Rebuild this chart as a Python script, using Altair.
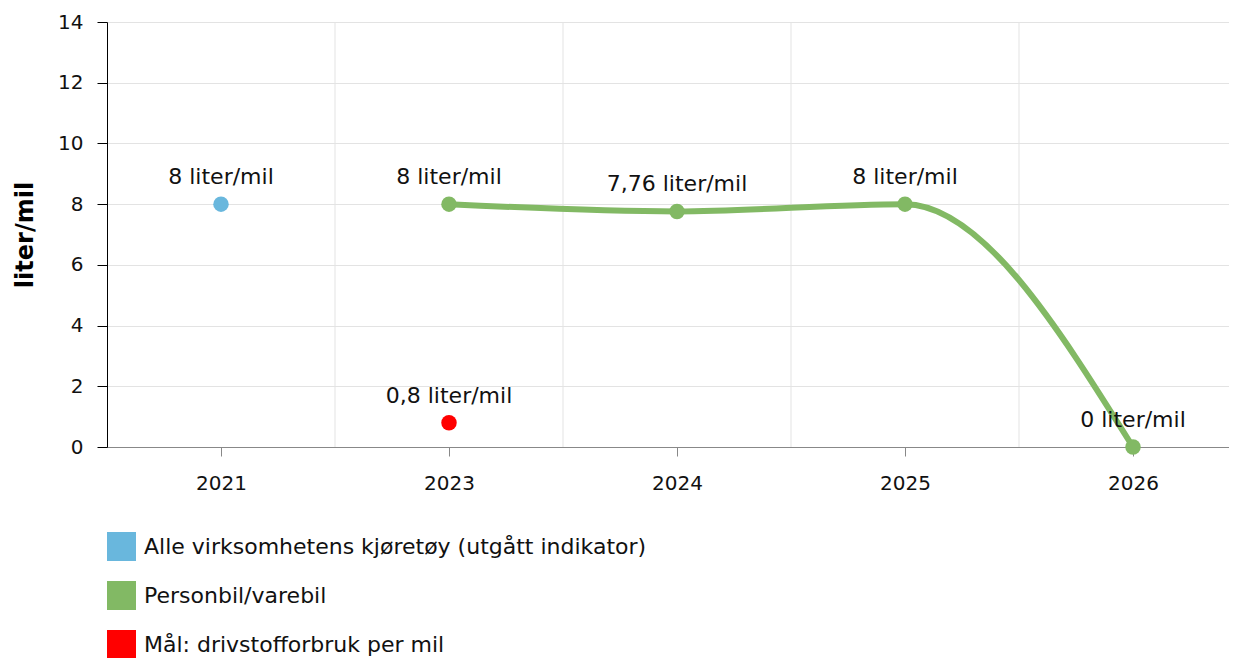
import altair as alt
import pandas as pd

years = ["2021", "2023", "2024", "2025", "2026"]
series_names = [
    "Alle virksomhetens kjøretøy (utgått indikator)",
    "Personbil/varebil",
    "Mål: drivstofforbruk per mil",
]
series_colors = ["#69b7dd", "#82b964", "#ff0000"]

alle_years = ["2021"]
alle_values = [8]
personbil_years = ["2023", "2024", "2025", "2026"]
personbil_values = [8, 7.76, 8, 0]
maal_years = ["2023"]
maal_values = [0.8]

grid_positions = [0.5, 1.5, 2.5, 3.5]


def fmt(v):
    s = ("%g" % v).replace(".", ",")
    return s + " liter/mil"


rows = []
for name, yrs, vals in [
    (series_names[0], alle_years, alle_values),
    (series_names[1], personbil_years, personbil_values),
    (series_names[2], maal_years, maal_values),
]:
    for y, v in zip(yrs, vals):
        rows.append({"series": name, "year": y, "idx": years.index(y), "value": v, "label": fmt(v)})
df = pd.DataFrame(rows)
line_df = df[df["series"] == series_names[1]]
grid_df = pd.DataFrame({"g": grid_positions})

FONT = "DejaVu Sans"
TXT = "#111111"
label_expr = "[" + ",".join("'%s'" % y for y in years) + "][datum.value]"

PLOT_W = 1122
PLOT_H = 425
x_scale = alt.Scale(domain=[-0.5, -0.5 + PLOT_W / 228.0], nice=False, zero=False)
y_scale = alt.Scale(domain=[0, 14], nice=False)
color_scale = alt.Scale(domain=series_names, range=series_colors)

x_enc = alt.X(
    "idx:Q",
    scale=x_scale,
    axis=alt.Axis(
        values=[0, 1, 2, 3, 4],
        labelExpr=label_expr,
        title=None,
        grid=False,
        domainColor="#888888",
        tickColor="#888888",
        tickSize=9,
        labelPadding=17,
        labelFontSize=20,
        labelFont=FONT,
        labelColor=TXT,
    ),
)
y_enc = alt.Y(
    "value:Q",
    scale=y_scale,
    axis=alt.Axis(
        values=[0, 2, 4, 6, 8, 10, 12, 14],
        title="liter/mil",
        titleFont=FONT,
        titleFontSize=24,
        titleFontWeight="bold",
        titleColor="#000000",
        titlePadding=20,
        grid=True,
        gridColor="#e3e3e3",
        domainColor="#000000",
        tickColor="#000000",
        tickSize=10,
        labelPadding=14,
        labelFontSize=20,
        labelFont=FONT,
        labelColor=TXT,
    ),
)

vgrid = alt.Chart(grid_df).mark_rule(color="#e3e3e3", strokeWidth=1).encode(
    x=alt.X("g:Q", scale=x_scale),
    y=alt.value(0),
    y2=alt.value(PLOT_H),
)

line = alt.Chart(line_df).mark_line(
    interpolate="monotone", strokeWidth=6, color=series_colors[1]
).encode(x=x_enc, y=y_enc)

points = alt.Chart(df).mark_point(filled=True, opacity=1, size=240, shape="circle").encode(
    x=alt.X("idx:Q", scale=x_scale),
    y=alt.Y("value:Q", scale=y_scale),
    color=alt.Color(
        "series:N",
        scale=color_scale,
        legend=alt.Legend(
            title=None,
            orient="none",
            legendX=0,
            legendY=510,
            direction="vertical",
            symbolType="square",
            symbolSize=841,
            symbolStrokeWidth=0,
            symbolOpacity=1,
            labelFont=FONT,
            labelFontSize=22,
            labelColor=TXT,
            labelOffset=8,
            rowPadding=20,
            labelLimit=900,
        ),
    ),
)

labels = alt.Chart(df).mark_text(
    font=FONT, fontSize=22, color=TXT, dy=-20, baseline="alphabetic", align="center"
).encode(
    x=alt.X("idx:Q", scale=x_scale),
    y=alt.Y("value:Q", scale=y_scale),
    text="label:N",
)

chart = (
    alt.layer(vgrid, line, points, labels)
    .properties(
        width=PLOT_W,
        height=PLOT_H,
        autosize=alt.AutoSizeParams(type="none"),
        padding={"left": 99, "top": 14, "right": 0, "bottom": 650 - 14 - PLOT_H},
    )
    .configure_view(stroke=None)
    .configure(background="white")
)

chart.save("out.html", embed_options={"renderer": "svg", "actions": False})
